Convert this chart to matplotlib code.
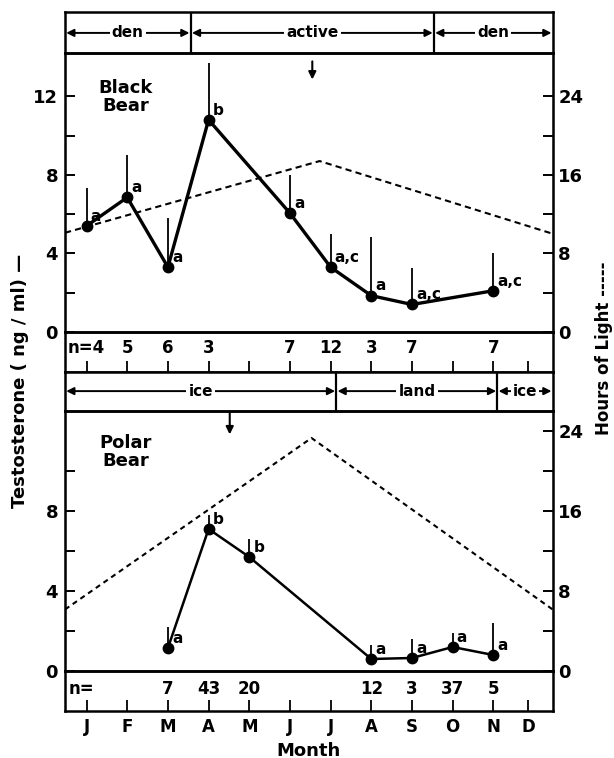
import numpy as np
import matplotlib.pyplot as plt

plt.rcParams['font.family'] = ['DejaVu Sans']
plt.rcParams['font.weight'] = 'bold'
plt.rcParams['axes.labelweight'] = 'bold'

months = ['J', 'F', 'M', 'A', 'M', 'J', 'J', 'A', 'S', 'O', 'N', 'D']
month_pos = [0, 1, 2, 3, 4, 5, 6, 7, 8, 9, 10, 10.86]
x_lo, x_hi = -0.53, 11.46

# black bear (upper panel)
black_x = [0, 1, 2, 3, 5, 6, 7, 8, 10]
black_t = [5.4, 6.85, 3.3, 10.8, 6.05, 3.3, 1.85, 1.4, 2.1]
black_top = [7.35, 9.0, 5.8, 13.7, 8.0, 5.0, 4.85, 3.25, 4.0]
black_sig = ['a', 'a', 'a', 'b', 'a', 'a,c', 'a', 'a,c', 'a,c']
black_n = ['n=4', '5', '6', '3', '7', '12', '3', '7', '7']
black_light_x = [x_lo, 5.73, x_hi]
black_light_h = [10.1, 17.4, 10.0]
black_phase = ['den', 'active', 'den']
black_edges = [x_lo, 2.56, 8.54, x_hi]
black_arrow = 5.55

# polar bear (lower panel)
polar_x = [2, 3, 4, 7, 8, 9, 10]
polar_t = [1.15, 7.1, 5.7, 0.6, 0.65, 1.2, 0.8]
polar_top = [2.2, 7.8, 6.6, 1.3, 1.6, 1.9, 2.4]
polar_sig = ['a', 'b', 'b', 'a', 'a', 'a', 'a']
polar_n = ['7', '43', '20', '12', '3', '37', '5']
polar_light_x = [x_lo, 5.53, x_hi]
polar_light_h = [6.15, 23.3, 6.15]
polar_phase = ['ice', 'land', 'ice']
polar_edges = [x_lo, 6.14, 10.1, x_hi]
polar_arrow = 3.52

W, H = 614, 758
fig = plt.figure(figsize=(W / 100, H / 100), dpi=100)
L, R = 65 / W, 552.7 / W


def box(top_px, bot_px):
    ax = fig.add_axes([L, 1 - bot_px / H, R - L, (bot_px - top_px) / H])
    ax.set_xlim(x_lo, x_hi)
    for s in ax.spines.values():
        s.set_linewidth(1.8)
    return ax


def band(ax, names, edges, ymid):
    ax.set_ylim(0, 1)
    ax.set_xticks([])
    ax.set_yticks([])
    for e in edges[1:-1]:
        ax.axvline(e, color='k', lw=1.6)
    for name, a, b in zip(names, edges[:-1], edges[1:]):
        ax.annotate('', xy=(b - 0.03, ymid), xytext=(a + 0.03, ymid),
                    arrowprops=dict(arrowstyle='<|-|>', color='k', lw=1.4,
                                    mutation_scale=11, shrinkA=0, shrinkB=0))
        ax.text((a + b) / 2, ymid, name, ha='center', va='center', fontsize=11,
                bbox=dict(facecolor='white', edgecolor='none', pad=1.5))


def panel(ax, ymax, xs, ts, tops, sigs, lx, lh, lw, dash, label, arrow_x, arrow_y):
    ax.set_ylim(0, ymax)
    ax.set_xticks([])
    ax2 = ax.twinx()
    ax2.set_ylim(0, 2 * ymax)
    ax2.plot(lx, lh, color='k', lw=1.5, dashes=dash, zorder=1)
    ax2.set_yticks(range(0, 25, 4))
    ax2.set_yticklabels(['0', '', '8', '', '16', '', '24'], fontsize=13)
    ax2.tick_params(direction='in', length=7, width=1.4, pad=4)
    ax.vlines(xs, ts, tops, color='k', lw=1.3, zorder=3)
    ax.plot(xs, ts, '-o', color='k', lw=lw, ms=7.5, zorder=4)
    for x, t, s in zip(xs, ts, sigs):
        ax.annotate(s, (x, t), xytext=(3, 7), textcoords='offset points',
                    ha='left', va='center', fontsize=11)
    ax.text(0.125, 0.842, label, transform=ax.transAxes, ha='center', va='center',
            fontsize=13, linespacing=0.95)
    ax.annotate('', xy=(arrow_x, arrow_y[1]), xytext=(arrow_x, arrow_y[0]),
                xycoords=('data', 'axes fraction'),
                arrowprops=dict(arrowstyle='-|>', color='k', lw=1.5,
                                mutation_scale=11, shrinkA=0, shrinkB=0))
    ax.set_zorder(ax2.get_zorder() + 1)
    ax.patch.set_visible(False)
    ax.tick_params(direction='in', length=7, width=1.4, pad=5, labelsize=13)
    return ax2


def nrow(ax, xs, labels, y):
    ax.set_ylim(0, 1)
    ax.set_yticks([])
    ax.set_xticks(month_pos)
    ax.tick_params(axis='x', direction='in', length=8, width=1.3, pad=5, labelsize=12)
    for x, s in zip(xs, labels):
        ax.text(x, y, s, ha='center', va='center', fontsize=12)


# top band
ax_b1 = box(12, 53)
band(ax_b1, black_phase, black_edges, 0.49)

# black bear
ax_u = box(53, 332)
panel(ax_u, 14.2, black_x, black_t, black_top, black_sig, black_light_x,
      black_light_h, 2.4, (3, 2), 'Black\nBear', black_arrow, (0.97, 0.905))
ax_u.set_yticks(range(0, 13, 2))
ax_u.set_yticklabels(['0', '', '4', '', '8', '', '12'])

ax_n1 = box(332, 372)
nrow(ax_n1, black_x, black_n, 0.6)
ax_n1.set_xticklabels([])

# middle band
ax_b2 = box(372, 411)
band(ax_b2, polar_phase, polar_edges, 0.51)

# polar bear
ax_l = box(411, 671)
panel(ax_l, 13.0, polar_x, polar_t, polar_top, polar_sig, polar_light_x,
      polar_light_h, 1.8, (2.5, 2), 'Polar\nBear', polar_arrow, (0.995, 0.91))
ax_l.set_yticks(range(0, 11, 2))
ax_l.set_yticklabels(['0', '', '4', '', '8', ''])

ax_n2 = box(671, 711)
nrow(ax_n2, polar_x, polar_n, 0.55)
ax_n2.text(0.007, 0.55, 'n=', transform=ax_n2.transAxes, ha='left', va='center', fontsize=12)
ax_n2.set_xticklabels(months)
ax_n2.set_xlabel('Month', fontsize=13, labelpad=4)

fig.text(0.033, 0.497, 'Testosterone ( ng / ml) \u2014', rotation=90,
         ha='center', va='center', fontsize=13)
fig.text(0.984, 0.54, 'Hours of Light -----', rotation=90,
         ha='center', va='center', fontsize=12)

fig.savefig('out.png', dpi=100)
